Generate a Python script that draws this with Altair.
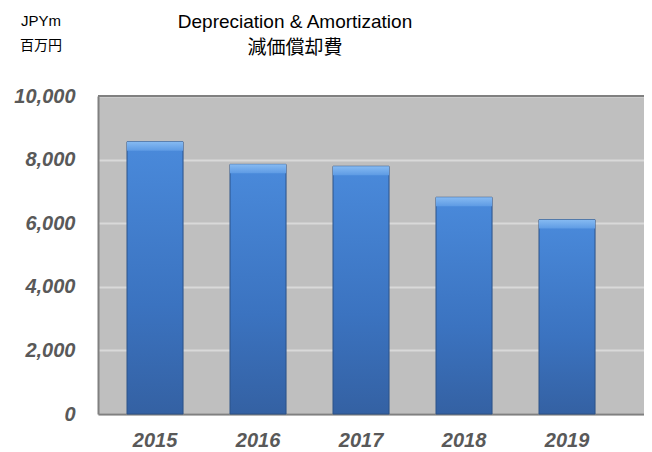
import altair as alt
import pandas as pd

years = ["2015", "2016", "2017", "2018", "2019"]
values = [8560, 7850, 7790, 6815, 6110]
title_en = "Depreciation & Amortization"
title_ja = "減価償却費"
unit_en = "JPYm"
unit_ja = "百万円"
y_ticks = [0, 2000, 4000, 6000, 8000, 10000]
y_max = [10000]

df = pd.DataFrame({"year": years, "value": values})

LATIN = "Liberation Sans"
CJK = "Noto Sans CJK JP"

xscale = alt.Scale(paddingInner=0.456, paddingOuter=0.3785, align=0.372)
yscale = alt.Scale(domain=[0, 10000], nice=False)

x_axis = alt.Axis(title=None, labelAngle=0, ticks=False,
                  domainColor="#808080", domainWidth=2,
                  labelFont=LATIN, labelFontSize=20,
                  labelFontWeight="bold", labelFontStyle="italic",
                  labelColor="#595959", labelPadding=16)
y_axis = alt.Axis(title=None, values=y_ticks, format=",d",
                  ticks=False, domainColor="#808080", domainWidth=2,
                  gridColor="#D9D9D9", gridWidth=2,
                  labelFont=LATIN, labelFontSize=20,
                  labelFontWeight="bold", labelFontStyle="italic",
                  labelColor="#595959", labelPadding=23)

x_enc = alt.X("year:N", scale=xscale, sort=years, axis=x_axis)

body_grad = alt.Gradient(
    gradient="linear", x1=0, x2=0, y1=0, y2=1,
    stops=[alt.GradientStop(color="#4A8ADB", offset=0),
           alt.GradientStop(color="#3B73C0", offset=0.6),
           alt.GradientStop(color="#3461A3", offset=1)])
bevel_grad = alt.Gradient(
    gradient="linear", x1=0, x2=0, y1=0, y2=1,
    stops=[alt.GradientStop(color="#86BAF2", offset=0),
           alt.GradientStop(color="#5E9BE4", offset=1)])

bars = alt.Chart(df).mark_bar(color=body_grad, stroke="#2C5287",
                              strokeWidth=1).encode(
    x=x_enc, y=alt.Y("value:Q", scale=yscale, axis=y_axis))

bevel = alt.Chart(df).transform_calculate(
    lower="datum.value - 280"
).mark_bar(color=bevel_grad, strokeWidth=0).encode(
    x=x_enc,
    y=alt.Y("value:Q", scale=yscale, axis=y_axis),
    y2="lower:Q")

top_rule = alt.Chart(pd.DataFrame({"value": y_max})).mark_rule(
    color="#808080", strokeWidth=2).encode(
    y=alt.Y("value:Q", scale=yscale, axis=y_axis))

t1 = alt.Chart(pd.DataFrame({"t": [title_en]})).mark_text(
    font=LATIN, fontSize=19, color="#000000", align="center",
    baseline="alphabetic").encode(text="t:N", x=alt.value(197), y=alt.value(-68))
t2 = alt.Chart(pd.DataFrame({"t": [title_ja]})).mark_text(
    font=CJK, fontSize=19, color="#000000", align="center",
    baseline="middle").encode(text="t:N", x=alt.value(197), y=alt.value(-48))
u1 = alt.Chart(pd.DataFrame({"t": [unit_en]})).mark_text(
    font=LATIN, fontSize=15, color="#000000", align="center",
    baseline="alphabetic").encode(text="t:N", x=alt.value(-57), y=alt.value(-70))
u2 = alt.Chart(pd.DataFrame({"t": [unit_ja]})).mark_text(
    font=CJK, fontSize=14, color="#000000", align="center",
    baseline="middle").encode(text="t:N", x=alt.value(-57), y=alt.value(-50))

chart = alt.layer(bars, bevel, top_rule, t1, t2, u1, u2).properties(
    width=546, height=318,
    autosize=alt.AutoSizeParams(type="none"),
    padding={"left": 90, "top": 88, "right": 0, "bottom": 38},
    background="#FFFFFF",
).configure_view(fill="#BFBFBF", strokeWidth=0)

chart.save("out.html", embed_options={"renderer": "svg", "actions": False})
